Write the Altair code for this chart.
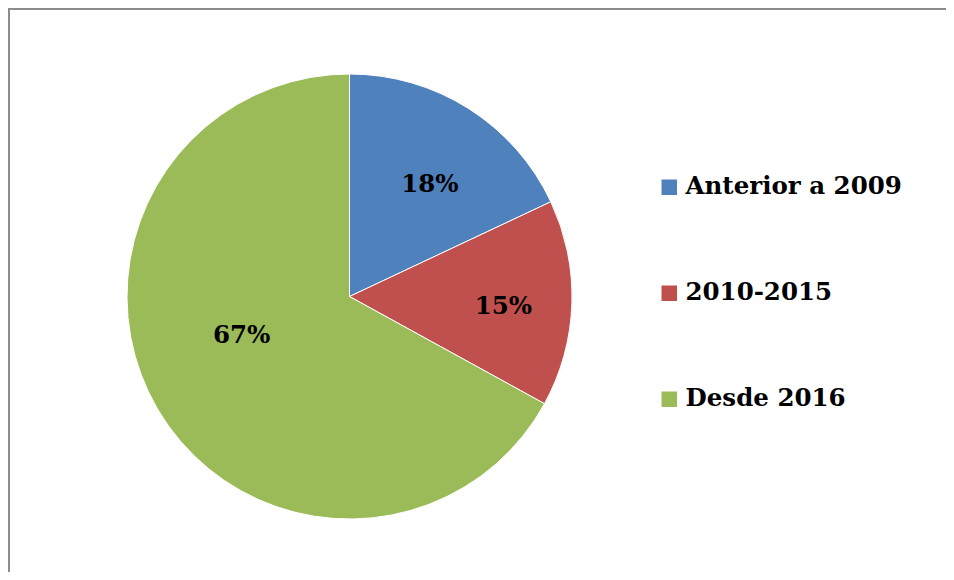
import altair as alt
import pandas as pd

categories = ["Anterior a 2009", "2010-2015", "Desde 2016"]
values = [18, 15, 67]
labels = ["18%", "15%", "67%"]
colors = ["#4F81BD", "#C0504D", "#9BBB59"]

df = pd.DataFrame({
    "cat": categories,
    "val": values,
    "lab": labels,
    "idx": list(range(len(categories))),
})

FONT = "DejaVu Serif"
FS = 24.5
TOTAL = sum(values)

theta_scale = alt.Scale(domain=[0, TOTAL], range=[0, 6.283185307179586])

stacked = alt.Chart(df).transform_stack(
    stack="val", as_=["s0", "s1"], groupby=[], sort=[alt.SortField("idx")]
).transform_calculate(mid="(datum.s0 + datum.s1) / 2")

color = alt.Color(
    "cat:N",
    scale=alt.Scale(domain=categories, range=colors),
    sort=categories,
    legend=alt.Legend(
        title=None,
        orient="none",
        legendX=530,
        legendY=101,
        symbolType="square",
        symbolSize=240,
        symbolStrokeWidth=0,
        labelFont=FONT,
        labelFontSize=FS,
        labelFontWeight="bold",
        labelColor="#000000",
        labelOffset=4,
        rowPadding=81,
        padding=0,
        labelLimit=400,
    ),
)

pie = stacked.mark_arc(stroke="white", strokeWidth=1).encode(
    theta=alt.Theta("s0:Q", scale=theta_scale),
    theta2="s1:Q",
    color=color,
)

offsets = {"Anterior a 2009": (7, 4), "2010-2015": (17, 6), "Desde 2016": (10, -30)}
texts = []
for c in categories:
    dx, dy = offsets[c]
    texts.append(
        stacked.transform_filter(alt.datum.cat == c).mark_text(
            radius=137, font=FONT, fontSize=FS, fontWeight="bold",
            color="#000000", dx=dx, dy=dy,
        ).encode(
            theta=alt.Theta("mid:Q", scale=theta_scale),
            text="lab:N",
        )
    )

border = pd.DataFrame({"k": [0]})
top_rule = alt.Chart(border).mark_rule(color="#8c8c8c", strokeWidth=2).encode(
    x=alt.value(-118), x2=alt.value(819), y=alt.value(-65)
)
left_rule = alt.Chart(border).mark_rule(color="#8c8c8c", strokeWidth=2).encode(
    x=alt.value(-118), y=alt.value(-66), y2=alt.value(498)
)

chart = alt.layer(top_rule, left_rule, pie, *texts).properties(
    width=445,
    height=445,
    autosize=alt.AutoSizeParams(type="none"),
    padding={"left": 119, "top": 66, "right": 374, "bottom": 53},
).configure_view(stroke=None)

chart.save("out.html", embed_options={"renderer": "svg", "actions": False})
